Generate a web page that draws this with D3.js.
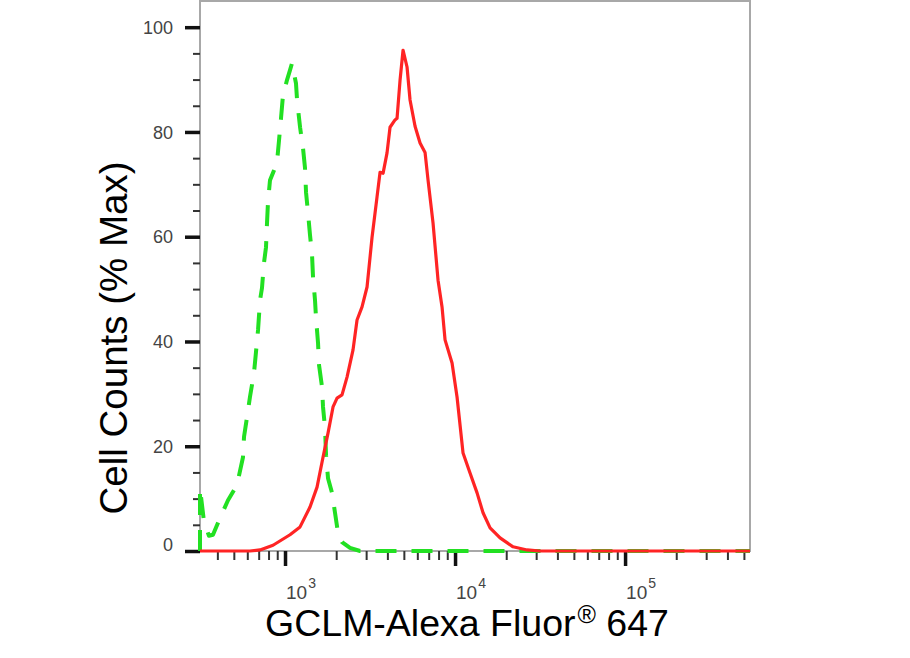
<!DOCTYPE html>
<html>
<head>
<meta charset="utf-8">
<script src="https://cdn.jsdelivr.net/npm/d3@7/dist/d3.min.js"></script>
<style>
  html, body { margin: 0; padding: 0; background: #fff; }
  svg { display: block; }
</style>
</head>
<body>
<svg id="chart" width="910" height="658"></svg>
<script>
// ---- Data ----
const xDomain = [316.2, 543000];
const yDomain = [0, 105];

const xMajorTicks = [1e3, 1e4, 1e5];
const xMajorExp = ["3", "4", "5"];
const xMinorTicks = [400, 500, 600, 700, 800, 900,
  2000, 3000, 4000, 5000, 6000, 7000, 8000, 9000,
  20000, 30000, 40000, 50000, 60000, 70000, 80000, 90000,
  200000, 300000, 400000, 500000];
const yMajorTicks = [0, 20, 40, 60, 80, 100];
const yMinorTicks = [5, 10, 15, 25, 30, 35, 45, 50, 55, 65, 70, 75, 85, 90, 95];

// Isotype control (green dashed)
const greenX = [316.2, 316.2, 334, 357, 377, 415, 462, 501, 529, 566, 574, 598, 622, 657, 675, 694, 713, 732, 752, 773, 784, 794, 816, 862, 897, 922, 947, 973, 1027, 1070, 1099,
  1160, 1177, 1226, 1276, 1311, 1329, 1366, 1403, 1442, 1461, 1501, 1522, 1564, 1585, 1651, 1673, 1719, 1743, 1790, 1890, 1968, 2050, 2164, 2412, 2762, 543000];
const greenY = [0, 12.0, 5.5, 2.9, 3.1, 6.3, 9.7, 11.6, 13.5, 17.9, 21.8, 25.6, 29.4, 34.0, 38.0, 42.2, 47.9, 50.2, 55.0, 58.0, 62.8, 66.6, 70.8, 72.7, 74.2, 78.4, 82.6, 87.0, 89.9, 91.8, 93.1,
  89.3, 86.1, 80.9, 76.9, 73.1, 68.5, 64.5, 60.3, 56.5, 52.3, 47.9, 44.5, 39.7, 35.5, 31.3, 27.5, 23.5, 18.3, 13.9, 11.1, 7.3, 3.4, 1.7, 0.6, 0, 0];

// GCLM sample (red solid)
const redX = [316.2, 622, 713, 850, 1070, 1226, 1403, 1543, 1673, 1790, 1916, 2023, 2164, 2316, 2512, 2652, 2838, 3037, 3250, 3477, 3622, 3772, 3981, 4146, 4436, 4559, 4749, 4945,
  5220, 5437, 5818, 6226, 6662, 6938, 7424, 7943, 8385, 8735, 9603, 10275, 11145, 12250, 13475, 14610, 16070, 18400, 21940, 26520, 31620, 543000];
const redY = [0, 0, 0.2, 1.1, 3.1, 4.6, 8.4, 12.2, 17.9, 22.5, 27.5, 29.2, 29.8, 33.2, 38.4, 44.1, 46.6, 50.4, 59.9, 67.6, 72.3, 72.1, 76.0, 80.9, 82.3, 82.6, 89.9, 95.6,
  92.4, 86.1, 81.1, 77.9, 76.1, 70.8, 62.6, 51.7, 46.6, 40.3, 35.9, 29.4, 18.7, 14.9, 11.1, 7.3, 4.4, 2.5, 0.8, 0.2, 0, 0];

const yTitle = "Cell Counts (% Max)";
const xTitleMain = "GCLM-Alexa Fluor";
const xTitleSup = "®";
const xTitleEnd = " 647";

// ---- Layout ----
const plot = { left: 200, right: 750, top: 1, bottom: 551 };
const svg = d3.select("#chart");
const font = "'Liberation Sans', Arial, Helvetica, sans-serif";

const x = d3.scaleLog().domain(xDomain).range([plot.left, plot.right]);
const y = d3.scaleLinear().domain(yDomain).range([plot.bottom, plot.top]);

// Frame
svg.append("rect")
  .attr("x", plot.left).attr("y", plot.top)
  .attr("width", plot.right - plot.left).attr("height", plot.bottom - plot.top)
  .attr("fill", "none").attr("stroke", "#a8a8a8").attr("stroke-width", 2);

// X minor ticks
const gxMinor = svg.append("g").attr("transform", `translate(0,${plot.bottom})`)
  .call(d3.axisBottom(x).tickValues(xMinorTicks).tickSize(9).tickFormat(""));
gxMinor.select(".domain").remove();
gxMinor.selectAll("line").attr("stroke", "#333").attr("stroke-width", 2);

// X major ticks
const gxMajor = svg.append("g").attr("transform", `translate(0,${plot.bottom})`)
  .call(d3.axisBottom(x).tickValues(xMajorTicks).tickSize(15).tickFormat(""));
gxMajor.select(".domain").remove();
gxMajor.selectAll("line").attr("stroke", "#111").attr("stroke-width", 3.5);

// X tick labels 10^n
const xl = svg.append("g").selectAll("text").data(xMajorTicks).join("text")
  .attr("x", d => x(d) + 1).attr("y", 599)
  .attr("font-family", font).attr("font-size", 19).attr("fill", "#444");
xl.append("tspan").text("10");
xl.append("tspan").attr("font-size", 14).attr("dx", 1).attr("dy", -11)
  .text((d, i) => xMajorExp[i]);

// Y minor ticks
const gyMinor = svg.append("g").attr("transform", `translate(${plot.left},0)`)
  .call(d3.axisLeft(y).tickValues(yMinorTicks).tickSize(7).tickFormat(""));
gyMinor.select(".domain").remove();
gyMinor.selectAll("line").attr("stroke", "#333").attr("stroke-width", 2);

// Y major ticks with labels
const gyMajor = svg.append("g").attr("transform", `translate(${plot.left},0)`)
  .call(d3.axisLeft(y).tickValues(yMajorTicks).tickSize(15).tickPadding(12).tickFormat(d3.format("d")));
gyMajor.select(".domain").remove();
gyMajor.selectAll("line").attr("stroke", "#111").attr("stroke-width", 3.5);
gyMajor.selectAll("text")
  .attr("font-family", font).attr("font-size", 18).attr("fill", "#444")
  .attr("dy", d => d === 0 ? "-0.05em" : "0.34em");

// Curves
const line = d3.line().x(d => x(d[0])).y(d => y(d[1])).curve(d3.curveLinear);
const greenData = greenX.map((v, i) => [v, greenY[i]]);
const redData = redX.map((v, i) => [v, redY[i]]);

svg.append("path").datum(greenData).attr("d", line)
  .attr("fill", "none").attr("stroke", "#22e022").attr("stroke-width", 4)
  .attr("stroke-dasharray", "21,15").attr("stroke-linejoin", "round");

svg.append("path").datum(redData).attr("d", line)
  .attr("fill", "none").attr("stroke", "#ff2424").attr("stroke-width", 3.2)
  .attr("stroke-linejoin", "round");

// Axis titles
svg.append("text")
  .attr("transform", `translate(127,338) rotate(-90)`)
  .attr("text-anchor", "middle")
  .attr("font-family", font).attr("font-size", 38.5).attr("fill", "#000")
  .text(yTitle);

const xt = svg.append("text")
  .attr("x", 467).attr("y", 636)
  .attr("text-anchor", "middle")
  .attr("font-family", font).attr("font-size", 37.5).attr("fill", "#000");
xt.append("tspan").text(xTitleMain);
xt.append("tspan").attr("font-size", 25).attr("dy", -13).attr("dx", 2).text(xTitleSup);
xt.append("tspan").attr("dy", 13).text(xTitleEnd);
</script>
</body>
</html>
